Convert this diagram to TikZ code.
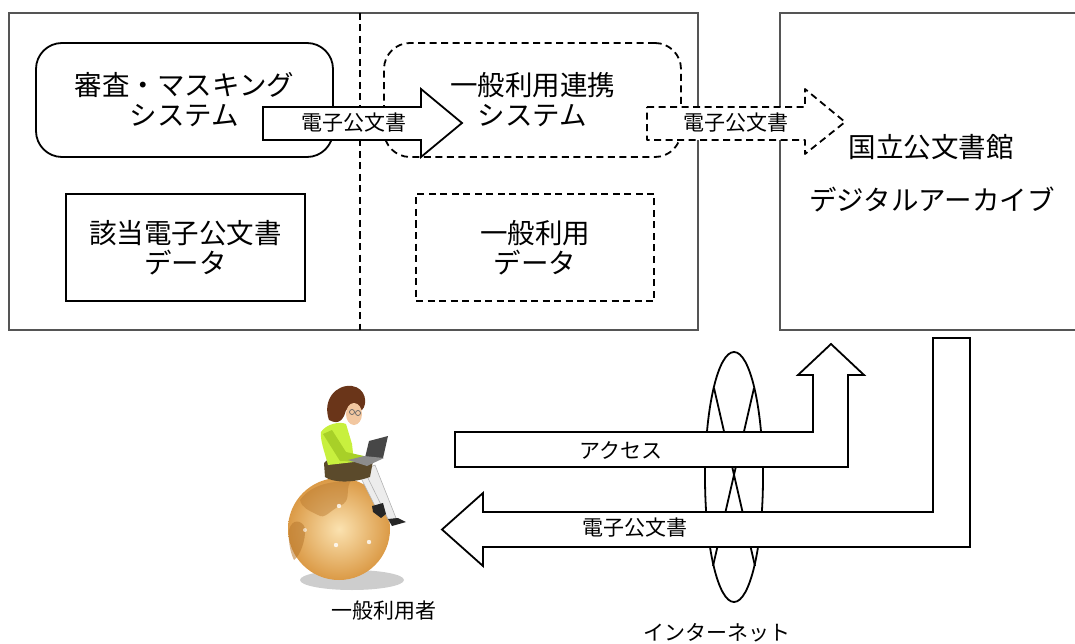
\documentclass[tikz,border=0pt]{standalone}
\usepackage{fontspec}
\setmainfont{Noto Sans CJK JP}
\definecolor{framegray}{HTML}{555555}
\definecolor{globein}{HTML}{FBE2B0}
\definecolor{globeout}{HTML}{DB9A46}
\definecolor{landbrown}{HTML}{B8782E}
\definecolor{hairbrown}{HTML}{6A3519}
\definecolor{skin}{HTML}{F2C7A0}
\definecolor{topgreen}{HTML}{C8F03E}
\definecolor{topshade}{HTML}{A8D028}
\definecolor{skirtbrown}{HTML}{5B4A2B}
\definecolor{stocking}{HTML}{ECECEC}
\begin{document}
\begin{tikzpicture}[x=1pt,y=-1pt,
  bigtext/.style={font=\fontsize{27.5}{30}\selectfont, align=center},
  smalltext/.style={font=\fontsize{21}{24}\selectfont},
  frame/.style={draw=framegray, line width=1.8pt},
  solidbox/.style={draw=black, line width=1.8pt, inner sep=0pt, bigtext},
  dashbox/.style={solidbox, dash pattern=on 7pt off 4.5pt},
  blockarrow/.style={draw=black, fill=white, line width=1.8pt, line join=miter},
  ring/.style={draw=black, line width=1.8pt}
]
\useasboundingbox (0,0) rectangle (1075,644);

% outer frame with the dashed divider
\draw[frame] (9,13) rectangle (698,330);
\draw[black, line width=1.4pt, dash pattern=on 7pt off 4.5pt] (360,13) -- (360,330);

% archive frame, open to the right
\draw[frame] (1077,13) -- (780,13) -- (780,330) -- (1077,330);
\node[bigtext] (arch1) at (931,147) {国立公文書館};
\node[bigtext] (arch2) at (932,200) {デジタルアーカイブ};

% inner boxes
\node[solidbox, rounded corners=26pt, minimum width=297pt, minimum height=114pt] (mask) at (184.5,100) {審査・マスキング\\システム};
\node[solidbox, minimum width=239pt, minimum height=107pt] (data1) at (185.5,247.5) {該当電子公文書\\データ};
\node[dashbox, rounded corners=26pt, minimum width=297pt, minimum height=114pt] (link) at (532.5,100) {一般利用連携\\システム};
\node[dashbox, minimum width=238pt, minimum height=107pt] (data2) at (535,247.5) {一般利用\\データ};

% twisted ring of the internet
\draw[ring] (734,477) ellipse [x radius=29pt, y radius=125pt];
\draw[ring] (714,388) -- (755,566);
\draw[ring] (754,388) -- (713,566);

% block arrows
\draw[blockarrow] (263,107) -- (421,107) -- (421,89) -- (462,123) -- (421,157) -- (421,140) -- (263,140) -- cycle;
\node[smalltext] (doc1) at (354,123) {電子公文書};
\draw[blockarrow, dash pattern=on 7pt off 4.5pt, line join=round] (647,107) -- (805,107) -- (805,89) -- (845,122) -- (805,154) -- (805,140) -- (647,140) -- cycle;
\node[smalltext] (doc2) at (736,123) {電子公文書};

\draw[blockarrow] (455,432) -- (813,432) -- (813,375) -- (798,375) -- (831,344) -- (864,375) -- (848,375) -- (848,467) -- (455,467) -- cycle;
\node[smalltext] (access) at (621,450) {アクセス};
\draw[blockarrow] (933,338) -- (970,338) -- (970,547) -- (483,547) -- (483,566) -- (442,529.5) -- (483,493) -- (483,512) -- (933,512) -- cycle;
\node[smalltext] (doc3) at (635,528) {電子公文書};

% user: a woman with a laptop sitting on a globe
\fill[black!28, opacity=0.7] (352,580) ellipse [x radius=52pt, y radius=10pt];
\shade[inner color=globein, outer color=globeout] (339,529) circle (51pt);
\fill[landbrown, opacity=0.45] (300,500) .. controls (310,486) and (330,480) .. (350,482)
  .. controls (345,492) and (352,500) .. (340,506) .. controls (330,510) and (325,520) .. (318,515)
  .. controls (308,510) and (302,508) .. (300,500) -- cycle;
\fill[landbrown, opacity=0.55] (289,530) .. controls (292,518) and (302,520) .. (305,528)
  .. controls (306,540) and (300,556) .. (294,560) .. controls (290,552) and (288,540) .. (289,530) -- cycle;
\fill[white, opacity=0.8] (339,506) circle (2.2pt);
\fill[white, opacity=0.8] (336,545) circle (2.2pt);
\fill[white, opacity=0.8] (369,542) circle (2.2pt);
\fill[white, opacity=0.6] (305,530) circle (2pt);
% legs and shoes
\fill[stocking, draw=black!30, line width=0.6pt] (356,468) -- (370,462) -- (384,505) -- (376,508) -- cycle;
\fill[stocking, draw=black!30, line width=0.6pt] (364,470) -- (375,465) -- (396,518) -- (389,521) -- cycle;
\fill[black!85] (372,506) -- (383,503) -- (386,514) -- (381,518) -- (373,512) -- cycle;
\fill[black!85] (388,519) -- (398,518) -- (406,522) -- (392,526) -- cycle;
% skirt
\fill[skirtbrown] (324,463) .. controls (330,454) and (360,454) .. (373,461)
  -- (370,477) .. controls (350,484) and (332,482) .. (325,477) -- cycle;
% torso and arm
\fill[topgreen] (321,432) .. controls (326,424) and (340,421) .. (346,424)
  -- (352,444) -- (354,462) -- (328,465) .. controls (324,450) and (320,440) .. (321,432) -- cycle;
\fill[topshade] (323,434) -- (332,430) -- (346,452) -- (364,456) -- (363,462) -- (340,461) -- cycle;
% laptop
\fill[black!72] (364,462) -- (369,441) -- (388,436) -- (383,458) -- cycle;
\fill[black!45] (348,460) -- (364,456) -- (384,458) -- (367,466) -- cycle;
% head
\fill[hairbrown] (329,420) .. controls (322,400) and (336,384) .. (352,386)
  .. controls (366,388) and (368,404) .. (362,410) -- (346,410) .. controls (344,418) and (340,426) .. (329,420) -- cycle;
\fill[skin] (354,414) ellipse [x radius=8pt, y radius=11pt];
\fill[hairbrown] (344,396) .. controls (352,390) and (362,394) .. (364,404) -- (350,402) -- cycle;
\draw[black!60, line width=0.7pt] (352,412) circle (2.5pt) (358,413) circle (2.5pt);

% labels
\node[smalltext] (user) at (384,611) {一般利用者};
\node[smalltext] (net) at (717,633) {インターネット};
\end{tikzpicture}
\end{document}
